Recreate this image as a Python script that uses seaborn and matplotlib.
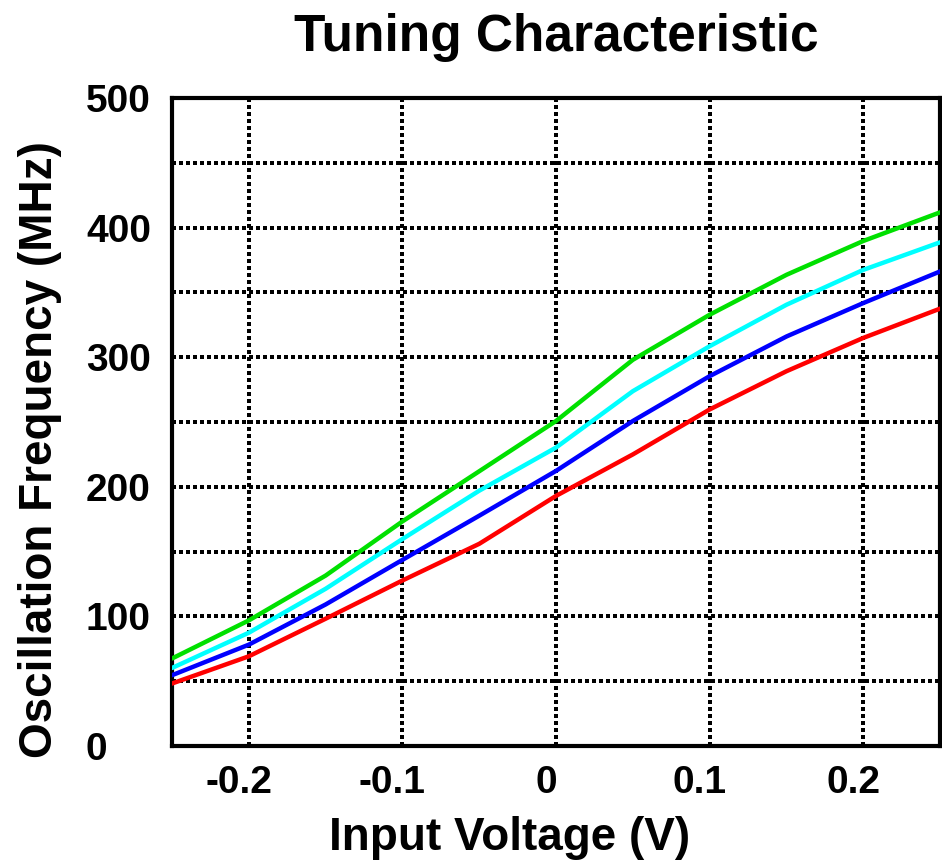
import numpy as np
import matplotlib
matplotlib.use("Agg")
import matplotlib.pyplot as plt
import matplotlib.transforms as mtransforms
from matplotlib.ticker import MultipleLocator
import pandas as pd
import seaborn as sns

# valeurs (pas de 0.05 V)
voltage = [-0.25, -0.2, -0.15, -0.1, -0.05, 0.0, 0.05, 0.1, 0.15, 0.2, 0.25]
freq_green = [67.5, 96.9, 131.5, 173.3, 212.0, 250.8, 298.0, 332.8, 363.6, 389.7, 411.8]
freq_cyan = [60.2, 87.4, 121.3, 159.7, 197.0, 230.3, 273.8, 308.5, 340.5, 367.4, 388.7]
freq_blue = [54.6, 78.2, 109.2, 143.6, 177.7, 212.3, 250.8, 285.4, 316.0, 341.8, 366.2]
freq_red = [48.2, 69.2, 98.2, 127.7, 156.0, 193.0, 225.0, 259.7, 289.2, 314.9, 337.5]

courbes = ["green", "cyan", "blue", "red"]
couleurs = ["#00e000", "#00ffff", "#0000ff", "#ff0000"]

df = pd.DataFrame({
    "V": voltage * 4,
    "f": freq_green + freq_cyan + freq_blue + freq_red,
    "courbe": np.repeat(courbes, len(voltage)),
})

sns.set_style("white")
plt.rcParams["font.family"] = ["Liberation Sans", "DejaVu Sans"]
plt.rcParams["font.weight"] = "bold"
plt.rcParams["text.color"] = "black"
plt.rcParams["axes.labelcolor"] = "black"

fig = plt.figure(figsize=(9.42, 8.63), dpi=100)
ax = fig.add_axes([0.1826, 0.1356, 0.8154, 0.7508])

sns.lineplot(data=df, x="V", y="f", hue="courbe", palette=dict(zip(courbes, couleurs)),
             linewidth=3.2, legend=False, ax=ax, zorder=3)

ax.set_xlim(-0.25, 0.25)
ax.set_ylim(0, 500)
ax.yaxis.set_major_locator(MultipleLocator(100))
ax.yaxis.set_minor_locator(MultipleLocator(50))
ax.set_xticks([-0.2, -0.1, 0, 0.1, 0.2])
ax.set_xticklabels(["-0.2", "-0.1", "0", "0.1", "0.2"])

# grille pointillée nette (carrés noirs)
grille = dict(color="black", linestyle=(0, (0.9, 1.0)), linewidth=2.6, antialiased=False)
ax.grid(True, axis="x", which="major", **grille)
ax.grid(True, axis="y", which="both", **grille)
ax.set_axisbelow(True)

for s in ax.spines.values():
    s.set_linewidth(3)
    s.set_color("black")

ax.tick_params(axis="both", which="both", direction="in", length=3, width=1.5,
               labelsize=28, colors="black")
ax.tick_params(axis="x", pad=14)
ax.tick_params(axis="y", pad=62)
for lab in ax.get_yticklabels():
    lab.set_horizontalalignment("left")
    lab.set_fontweight("bold")
decal = mtransforms.ScaledTranslation(-10 / 100, 0, fig.dpi_scale_trans)
for lab in ax.get_xticklabels():
    lab.set_transform(lab.get_transform() + decal)
    lab.set_fontweight("bold")

ax.set_title("Tuning Characteristic", fontsize=37, fontweight="bold", pad=34, color="black")
ax.set_xlabel("Input Voltage (V)", fontsize=33, fontweight="bold", color="black")
ax.set_ylabel("Oscillation Frequency (MHz)", fontsize=33, fontweight="bold", color="black")
ax.xaxis.set_label_coords(0.439, -0.108)
ax.yaxis.set_label_coords(-0.143, 0.457)

fig.savefig("out.png", dpi=100)
